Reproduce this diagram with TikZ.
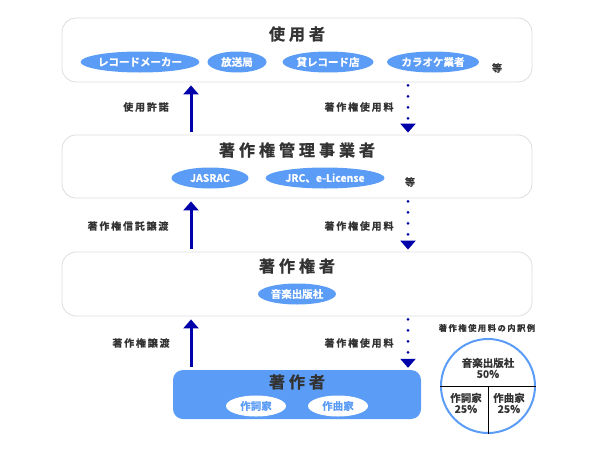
\documentclass[tikz,border=0pt]{standalone}
\usepackage{fontspec}
\setmainfont{Noto Sans CJK JP}[BoldFont={Noto Sans CJK JP Bold}]
\newfontfamily\jpbold{Noto Sans CJK JP Bold}[FakeBold=0.6]
\newfontfamily\jpwide{Noto Sans CJK JP Bold}[LetterSpace=25, FakeBold=1.2]
\newfontfamily\jplabel{Noto Sans CJK JP Bold}[LetterSpace=18, FakeBold=0.6]
\usetikzlibrary{arrows.meta, positioning, shapes.geometric}

\definecolor{pale}{HTML}{5B9CF6}
\definecolor{navy}{HTML}{0000AA}
\definecolor{ink}{HTML}{333333}
\definecolor{rim}{HTML}{DDDDDD}
\definecolor{thin}{HTML}{A9C9FA}

\begin{document}
\begin{tikzpicture}[
  x=1pt, y=-1pt,
  panel/.style={draw=rim, fill=white, line width=0.8pt, rounded corners=14pt,
    minimum width=470pt, minimum height=64pt},
  title/.style={text=ink, font=\jpwide\fontsize{16}{18}\selectfont},
  tag/.style={ellipse, fill=pale, text=white, inner sep=0pt,
    minimum height=21pt, font=\jpbold\fontsize{10.5}{12}\selectfont},
  lbl/.style={text=ink, font=\jplabel\fontsize{10}{12}\selectfont},
  pietext/.style={text=ink, align=center, font=\jpbold\fontsize{10.5}{11}\selectfont},
  uparrow/.style={draw=navy, line width=3pt, -{Triangle[width=15pt,length=9pt]},
    shorten <=3pt, shorten >=3pt},
  dotarrow/.style={draw=navy, line width=3pt, line cap=round,
    dash pattern=on 0pt off 11pt, -{Triangle[width=15pt,length=9pt]},
    shorten <=3pt, shorten >=2pt},
]
  \useasboundingbox (0,0) rectangle (600,450);

  % Column of the arrows
  \coordinate (upx) at (191,0);
  \coordinate (dnx) at (408,0);

  % Users
  \node[panel] (users) at (297,50) {};
  \node[title] (usersT) at (297,34) {使用者};
  \node[tag, minimum width=102pt] (maker) at (140,62) {レコードメーカー};
  \node[tag, minimum width=59pt]  (radio) at (237,62) {放送局};
  \node[tag, minimum width=91pt]  (rental) at (328,62) {貸レコード店};
  \node[tag, minimum width=92pt]  (karaoke) at (433,62) {カラオケ業者};
  \node[lbl] (etc1) at (497,68) {等};

  % Management agencies
  \node[panel, minimum height=63pt] (mgmt) at (297,166.5) {};
  \node[title] (mgmtT) at (297,150) {著作権管理事業者};
  \node[tag, minimum width=77pt]  (jasrac) at (210,178) {JASRAC};
  \node[tag, minimum width=119pt] (jrc) at (325,178) {JRC、e-License};
  \node[lbl] (etc2) at (410,182) {等};

  % Rights holders
  \node[panel] (owner) at (297,284) {};
  \node[title] (ownerT) at (297,266) {著作権者};
  \node[tag, minimum width=78pt] (publisher) at (297,294) {音楽出版社};

  % Authors
  \node[fill=pale, rounded corners=10pt, minimum width=248pt, minimum height=49pt]
    (author) at (297,394.5) {};
  \node[title] (authorT) at (297,382) {著作者};
  \node[tag, fill=white, text=pale, minimum width=60pt] (lyric) at (256,406) {作詞家};
  \node[tag, fill=white, text=pale, minimum width=60pt] (music) at (338,406) {作曲家};

  % Arrows between the levels
  \draw[uparrow] (mgmt.north -| upx) -- (users.south -| upx);
  \draw[uparrow] (owner.north -| upx) -- (mgmt.south -| upx);
  \draw[uparrow] (author.north -| upx) -- (owner.south -| upx);
  \draw[dotarrow] (users.south -| dnx) -- (mgmt.north -| dnx);
  \draw[dotarrow] (mgmt.south -| dnx) -- (owner.north -| dnx);
  \draw[dotarrow] (owner.south -| dnx) -- (author.north -| dnx);

  % Arrow labels
  \node[lbl] (permit) at (146,107) {使用許諾};
  \node[lbl] (fee1) at (359,107) {著作権使用料};
  \node[lbl] (trust) at (128,226) {著作権信託譲渡};
  \node[lbl] (fee2) at (359,226) {著作権使用料};
  \node[lbl] (transfer) at (141,343) {著作権譲渡};
  \node[lbl] (fee3) at (359,343) {著作権使用料};

  % Share of the fee
  \node[lbl, font=\jplabel\fontsize{8.3}{10}\selectfont] (pieT) at (487,328) {著作権使用料の内訳例};
  \node[circle, draw=pale, line width=2pt, fill=white, minimum size=94pt, inner sep=0pt]
    (pie) at (488,386) {};
  \draw[thin, line width=1pt] (pie.west) -- (pie.east);
  \draw[thin, line width=1pt] (pie.center) -- (pie.south);
  \node[pietext] (pubshare) at (488,368) {音楽出版社\\50\%};
  \node[pietext] (lyrshare) at (466,403) {作詞家\\25\%};
  \node[pietext] (musshare) at (509,403) {作曲家\\25\%};
\end{tikzpicture}
\end{document}
